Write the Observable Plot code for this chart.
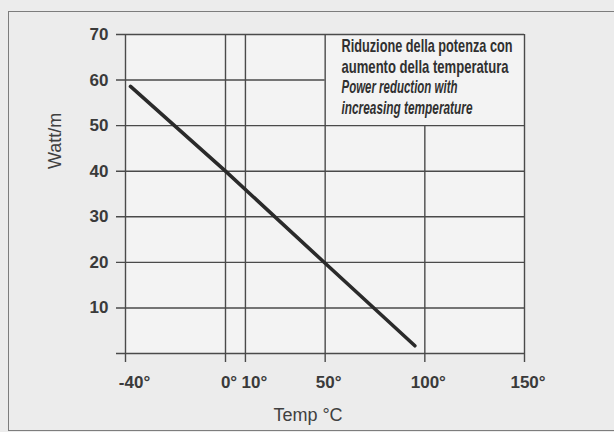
<!DOCTYPE html>
<html><head><meta charset="utf-8">
<script src="https://cdn.jsdelivr.net/npm/d3@7"></script>
<script src="https://cdn.jsdelivr.net/npm/@observablehq/plot@0.6"></script>
<style>
html,body{margin:0;padding:0;background:#ececec;}
#wrap{position:relative;width:614px;height:432px;overflow:hidden;}
#border{position:absolute;left:8px;top:11px;width:660px;height:420px;border:1.5px solid #7d7d7d;box-sizing:border-box;}
#chart{position:absolute;left:0;top:0;}
</style></head><body>
<div id="wrap"><div id="border"></div><div id="chart"></div></div>
<script>
// data
const temps = [-38, 0, 50, 95];
const watts = [58.6, 40, 19.8, 1.7];
const xLabelsCentered = [0, 50, 100, 150];
const xLabelsShifted = [-40, 10];
const yLabelValues = [10, 20, 30, 40, 50, 60, 70];
const fullGridY = [0, 10, 20, 30, 40, 50, 70];
const partialGridY = [60];
const fullGridX = [-40, 0, 10, 50, 150];
const partialGridX = [100];
const noteIt = ["Riduzione della potenza con", "aumento della temperatura"];
const noteEn = ["Power reduction with", "increasing temperature"];
const xTitle = "Temp °C";
const yTitle = "Watt/m";

const series = temps.map((t, i) => ({t, w: watts[i]}));

const W = 614, H = 432;
const mL = 125, mR = 90, mT = 34, mB = 79;
// piecewise x scale: the -40..0 span is drawn wider than the rest
const xDomain = [-40, 0, 150];
const xRange = [mL, mL + 100, W - mR];
// rendered widths of the condensed note lines (layout)
const noteLineWidths = [[171, 167], [116, 131]];

const gridColor = "#4a4a4a";
const labelFont = "'Liberation Sans', Arial, sans-serif";

const chart = Plot.plot({
  width: W, height: H,
  marginLeft: mL, marginRight: mR, marginTop: mT, marginBottom: mB,
  style: {background: "transparent", fontFamily: labelFont},
  x: {type: "linear", domain: xDomain, range: xRange, axis: null},
  y: {domain: [0, 70], axis: null},
  marks: [
    Plot.frame({fill: "#f3f3f3", stroke: "none"}),
    Plot.ruleY(fullGridY, {y: d => d, x1: -40, x2: 150, insetLeft: -9, stroke: gridColor, strokeWidth: 1.4}),
    Plot.ruleY(partialGridY, {y: d => d, x1: -40, x2: 50, insetLeft: -9, stroke: gridColor, strokeWidth: 1.4}),
    Plot.ruleX(fullGridX, {x: d => d, y1: 70, y2: 0, insetBottom: -9, stroke: gridColor, strokeWidth: 1.4}),
    Plot.ruleX(partialGridX, {x: d => d, y1: 50, y2: 0, insetBottom: -9, stroke: gridColor, strokeWidth: 1.4}),
    Plot.line(series, {x: "t", y: "w", stroke: "#2a2a2a", strokeWidth: 3.6, strokeLinecap: "round"}),
    Plot.text(yLabelValues, {y: d => d, frameAnchor: "left", dx: -17, textAnchor: "end", text: d => String(d),
      fontSize: 17, fontWeight: "bold", fill: "#3a3a3a"}),
    Plot.text(xLabelsCentered, {x: d => d, frameAnchor: "bottom", dy: 22, lineAnchor: "top", dx: 3.5, text: d => d + "°",
      fontSize: 17, fontWeight: "bold", fill: "#3a3a3a"}),
    Plot.text(xLabelsShifted, {x: d => d, frameAnchor: "bottom", dy: 22, lineAnchor: "top", dx: 9, text: d => d + "°",
      fontSize: 17, fontWeight: "bold", fill: "#3a3a3a"}),
    Plot.text([yTitle], {frameAnchor: "left", dx: -70, dy: -25, rotate: -90, text: d => d,
      fontSize: 18, fill: "#404040"}),
    Plot.text([xTitle], {frameAnchor: "bottom", dx: -17, dy: 62, lineAnchor: "middle", text: d => d,
      fontSize: 18, fill: "#404040"}),
    Plot.text([noteIt.join("\n")], {className: "note-it", frameAnchor: "top-left", dx: 216, dy: 3, lineAnchor: "top", textAnchor: "start",
      lineHeight: 1.08, text: d => d, fontSize: 19, fill: "#303030", fontWeight: "bold"}),
    Plot.text([noteEn.join("\n")], {className: "note-en", frameAnchor: "top-left", dx: 216, dy: 44, lineAnchor: "top", textAnchor: "start",
      lineHeight: 1.08, text: d => d, fontSize: 19, fill: "#303030", fontStyle: "italic", fontWeight: "bold"})
  ]
});
// condense the note lines to the narrow face of the original
["note-it", "note-en"].forEach((cls, k) => {
  d3.select(chart).selectAll("." + cls + " tspan").each(function(_, i) {
    d3.select(this).attr("textLength", noteLineWidths[k][i]).attr("lengthAdjust", "spacingAndGlyphs");
  });
});
document.getElementById("chart").appendChild(chart);
</script>
</body></html>
